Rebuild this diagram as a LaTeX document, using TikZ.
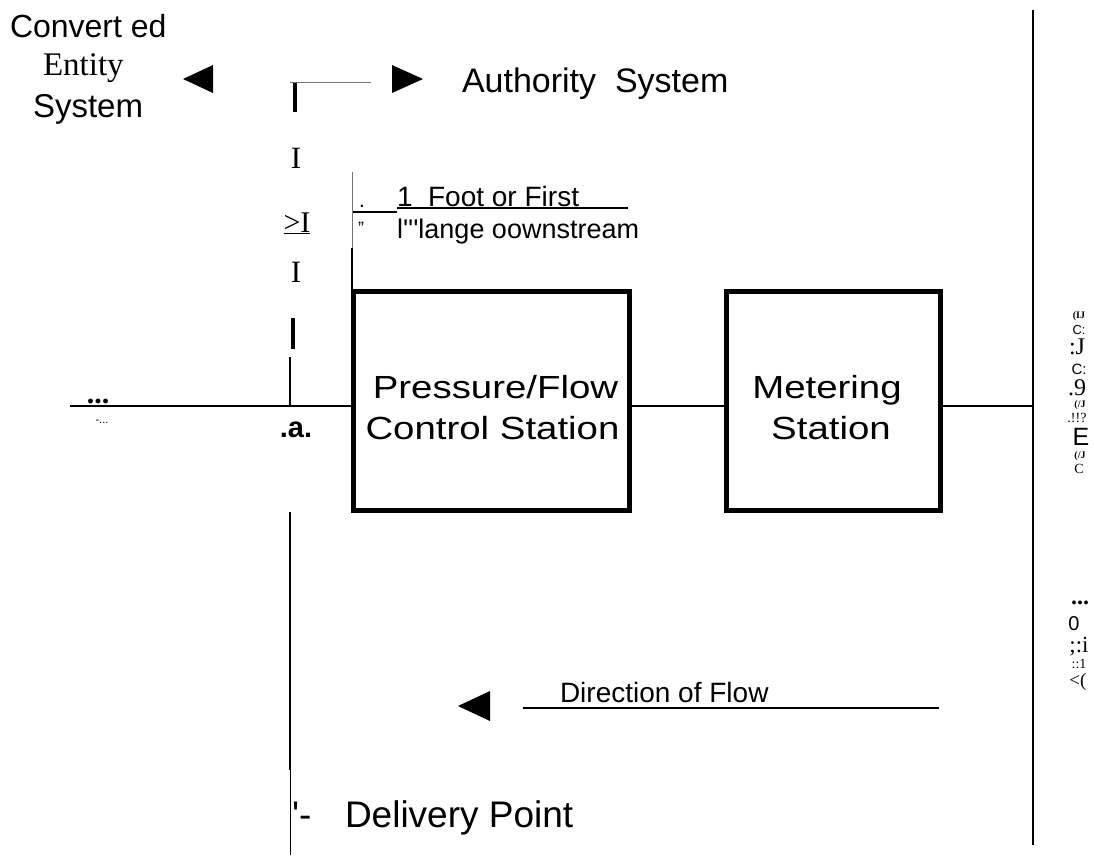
\documentclass[tikz,border=0pt]{standalone}
\usepackage{fontspec}
\setmainfont{Liberation Serif}
\setsansfont{Liberation Sans}
\newcommand{\fs}[1]{\fontsize{#1}{#1}\selectfont}
\begin{document}
\begin{tikzpicture}[x=1pt,y=-1pt,
  every node/.style={inner sep=0pt, outer sep=0pt},
  sansf/.style={font=\sffamily\fs{#1}},
  serf/.style={font=\rmfamily\fs{#1}},
  serb/.style={font=\rmfamily\bfseries\fs{#1}},
  stbox/.style={draw, line width=5pt, minimum height=219pt},
  pipe/.style={line width=1.7pt},
  hair/.style={line width=1pt, black!55},
  thickbar/.style={line width=3.6pt},
  tri/.style={fill=black}
]
\useasboundingbox (0,0) rectangle (1094,857);

% ---------- stations ----------
\node[stbox, minimum width=276pt] (pfc) at (491,400.5) {};
\node[stbox, minimum width=214pt] (met) at (833,400.5) {};
\node[sansf=32, anchor=base] (pf1) at (495.5,398) {\scalebox{1.2}[1]{Pressure/Flow}};
\node[sansf=32, anchor=base] (pf2) at (492.5,439) {\scalebox{1.2}[1]{Control Station}};
\node[sansf=32, anchor=base] (m1) at (827,398) {\scalebox{1.2}[1]{Metering}};
\node[sansf=32, anchor=base] (m2) at (831,439) {\scalebox{1.2}[1]{Station}};

% ---------- main pipe and boundary ----------
\coordinate (lend) at (70,406);
\coordinate (rtop) at (1033,10);
\coordinate (rbot) at (1033,845);
\draw[pipe] (rtop) -- (rbot);
\draw[pipe] (lend) -- (lend -| pfc.west);
\draw[pipe] (lend -| pfc.east) -- (lend -| met.west);
\draw[pipe] (lend -| met.east) -- (lend -| rtop);
\node[serb=30, anchor=base] (dotsl) at (98,403) {...};
\node[sansf=11, anchor=base] (dashl) at (102,423) {-...};
\node[font=\sffamily\bfseries\fs{29}, anchor=base] (aa) at (296,437) {.a.};

% ---------- top legend ----------
\node[sansf=32, anchor=base west] (conv) at (10,37) {Convert ed};
\node[serf=33, anchor=base west] (ent) at (43,75) {Entity};
\node[sansf=33, anchor=base west] (sys) at (33,117) {System};
\fill[tri] (213,65) -- (183,79) -- (213,93) -- cycle;
\coordinate (tl1) at (290,82);
\coordinate (tl2) at (371,82);
\draw[hair] (tl1) -- (tl2);
\draw[thickbar] (295,83) -- (295,112);
\fill[tri] (392,65) -- (423,79) -- (392,93) -- cycle;
\node[sansf=34, anchor=base west] (auth) at (462,92) {Authority\ \ System};

% ---------- vertical marker column ----------
\node[serf=31, anchor=base] (i1) at (296,168) {I};
\node[serf=30, anchor=base] (ge) at (297,232) {\underline{>I}};
\node[serf=31, anchor=base] (i2) at (296,282) {I};
\draw[thickbar] (293,318) -- (293,349);
\coordinate (vm) at (290,357);
\draw[pipe] (vm) -- (vm |- lend);
\coordinate (vl) at (290,512);
\coordinate (vlm) at (290,770);
\coordinate (vlb) at (290,855);
\draw[line width=2.2pt] (vl) -- (vlm);
\draw[line width=1pt] (vlm) -- (vlb);

% ---------- first flange annotation ----------
\coordinate (ft) at (352,172);
\coordinate (fm) at (352,248);
\draw[hair] (ft) -- (fm);
\draw[pipe] (fm) -- (fm |- pfc.north);
\coordinate (fa) at (353,212);
\coordinate (fb) at (397,212);
\draw[line width=2pt] (fa) -- (fb);
\node[sansf=22, anchor=base] (fdot) at (362,207) {.};
\node[sansf=18, anchor=base] (fq) at (361,234) {"};
\node[sansf=28, anchor=base west] (foot) at (397,206) {1\ \ Foot or First};
\coordinate (fu1) at (397,208);
\coordinate (fu2) at (628,208);
\draw[line width=2.2pt] (fu1) -- (fu2);
\node[sansf=27, anchor=base west] (flange) at (397,238) {l\textquotesingle\textquotesingle\textquotesingle lange oownstream};

% ---------- direction of flow ----------
\fill[tri] (490,691) -- (458,706) -- (490,721) -- cycle;
\node[sansf=28, anchor=base west] (dir) at (560,702) {Direction of Flow};
\coordinate (du1) at (523,708);
\coordinate (du2) at (939,708);
\draw[line width=2pt] (du1) -- (du2);

% ---------- delivery point ----------
\node[sansf=37, anchor=base west] (dq) at (292,827) {\textquotesingle-};
\node[sansf=37, anchor=base west] (deliv) at (345,827) {Delivery Point};

% ---------- right column (garbled vertical text) ----------
\node[serb=10] (r1) at (1079,316) {(IJ};
\node[sansf=13] (r2) at (1079,330) {C:};
\node[serf=24] (r3) at (1077,347) {:J};
\node[sansf=15] (r4) at (1079,369) {C:};
\node[serf=24] (r5) at (1077,388) {.9};
\node[serb=10] (r6) at (1080,405) {(/J};
\node[serf=14] (r7) at (1077,418) {.!!?};
\node[sansf=25] (r8) at (1081,437) {E};
\node[serb=10] (r9) at (1080,456) {(/J};
\node[serf=14] (r10) at (1079,469) {C};
\node[serb=24] (r11) at (1080,603) {...};
\node[sansf=20] (r12) at (1074,624) {0};
\node[serf=23] (r13) at (1079,647) {;:i};
\node[serf=14] (r14) at (1079,664) {::1};
\node[serf=19] (r15) at (1078,682) {<(};
\end{tikzpicture}
\end{document}
